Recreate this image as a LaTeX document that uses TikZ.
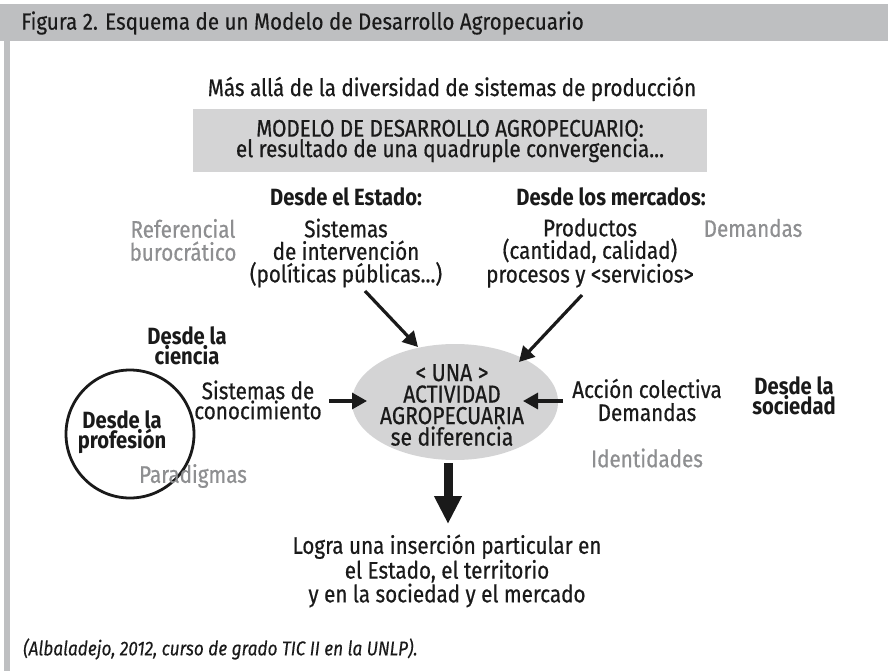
\documentclass[tikz,border=0pt]{standalone}
\usepackage{fontspec}
\setmainfont{Fira Sans}[FakeStretch=0.86, UprightFeatures={FakeBold=0.6}, ItalicFeatures={FakeBold=0.3}]
\newfontfamily\titlefont{Fira Sans}[FakeStretch=0.88, UprightFeatures={FakeBold=0.3}]
\usetikzlibrary{arrows.meta,shapes.geometric}
\definecolor{barGray}{HTML}{BEBFC1}
\definecolor{boxGray}{HTML}{D4D4D5}
\definecolor{softText}{HTML}{8E8F91}
\definecolor{ink}{HTML}{1A1A1A}
\tikzset{
  body/.style={font=\fontsize{24}{22.5}\selectfont, text=ink, align=center, inner sep=0pt},
  bodybold/.style={font=\fontsize{23.5}{20.5}\selectfont\bfseries, text=ink, align=center, inner sep=0pt},
  soft/.style={font=\fontsize{24}{23}\selectfont, text=softText, align=center, inner sep=0pt},
  conn/.style={line width=3.2pt, draw=ink, -{Triangle[length=15pt,width=16pt]}},
  bigconn/.style={line width=9pt, draw=ink, -{Triangle[length=28pt,width=26pt]}},
}
\begin{document}
\begin{tikzpicture}[x=1pt,y=-1pt]
\useasboundingbox (0,0) rectangle (888,671);
\fill[white] (0,0) rectangle (888,671);
% frame
\fill[barGray] (0,4) rectangle (888,41);
\fill[barGray] (4,41) rectangle (10,671);
\node[anchor=west, font=\titlefont\fontsize{23.4}{24}\selectfont, text=ink, inner sep=0pt] (title) at (21,23) {Figura 2. Esquema de un Modelo de Desarrollo Agropecuario};
% header
\node[body] (beyond) at (452,89) {Más allá de la diversidad de sistemas de producción};
\fill[boxGray] (193,109) rectangle (707,172);
\node[body, font=\fontsize{24}{20.5}\selectfont] (model) at (450,141) {MODELO DE DESARROLLO AGROPECUARIO:\\el resultado de una quadruple convergencia...};
% top sources
\node[bodybold] (estado) at (346,197) {Desde el Estado:};
\node[bodybold] (mercados) at (611,197) {Desde los mercados:};
\node[soft] (refer) at (183,240) {Referencial\\burocrático};
\node[body] (sist) at (346,253) {Sistemas\\de intervención\\(políticas públicas...)};
\node[body] (prod) at (590,253) {Productos\\(cantidad, calidad)\\procesos y <servicios>};
\node[soft] (demsoft) at (753,228) {Demandas};
% left
\node[bodybold] (ciencia) at (187,346) {Desde la\\ciencia};
\node[body, font=\fontsize{24}{20}\selectfont] (conoc) at (258,400) {Sistemas de\\conocimiento};
\node[draw=ink, line width=2.8pt, circle, minimum size=128pt, inner sep=0pt] (prof) at (130,434) {};
\node[bodybold] (proftext) at (122,432) {Desde la\\profesión};
\node[soft] (parad) at (193,476) {Paradigmas};
% center
\node[ellipse, fill=boxGray, minimum width=206pt, minimum height=116pt, inner sep=0pt] (act) at (455,402) {};
\node[body, font=\fontsize{24.5}{21.5}\selectfont] (acttext) at (452,405) {< UNA >\\ACTIVIDAD\\AGROPECUARIA\\se diferencia};
% right
\node[body, font=\fontsize{24}{23}\selectfont] (accion) at (647,400) {Acción colectiva\\Demandas};
\node[bodybold] (sociedad) at (794,396) {Desde la\\sociedad};
\node[soft] (ident) at (647,458) {Identidades};
% bottom
\node[body, font=\fontsize{24}{21}\selectfont] (logra) at (447,571) {Logra una inserción particular en\\el Estado, el territorio\\y en la sociedad y el mercado};
\node[anchor=west, font=\fontsize{20}{22}\selectfont\itshape, text=ink, inner sep=0pt] (cite) at (23,649) {(Albaladejo, 2012, curso de grado TIC II en la UNLP).};
% connectors
\coordinate (estStart) at (365,291);
\coordinate (estEnd) at (418,347);
\coordinate (merStart) at (582,295);
\coordinate (merEnd) at (519,362);
\coordinate (conStart) at (329,401);
\coordinate (conEnd) at (367,401);
\coordinate (accStart) at (563,401);
\coordinate (accEnd) at (523,401);
\coordinate (downStart) at (448,463);
\coordinate (downEnd) at (448,524);
\draw[conn] (estStart) -- (estEnd);
\draw[conn] (merStart) -- (merEnd);
\draw[conn] (conStart) -- (conEnd);
\draw[conn] (accStart) -- (accEnd);
\draw[bigconn] (downStart) -- (downEnd);
\end{tikzpicture}
\end{document}
